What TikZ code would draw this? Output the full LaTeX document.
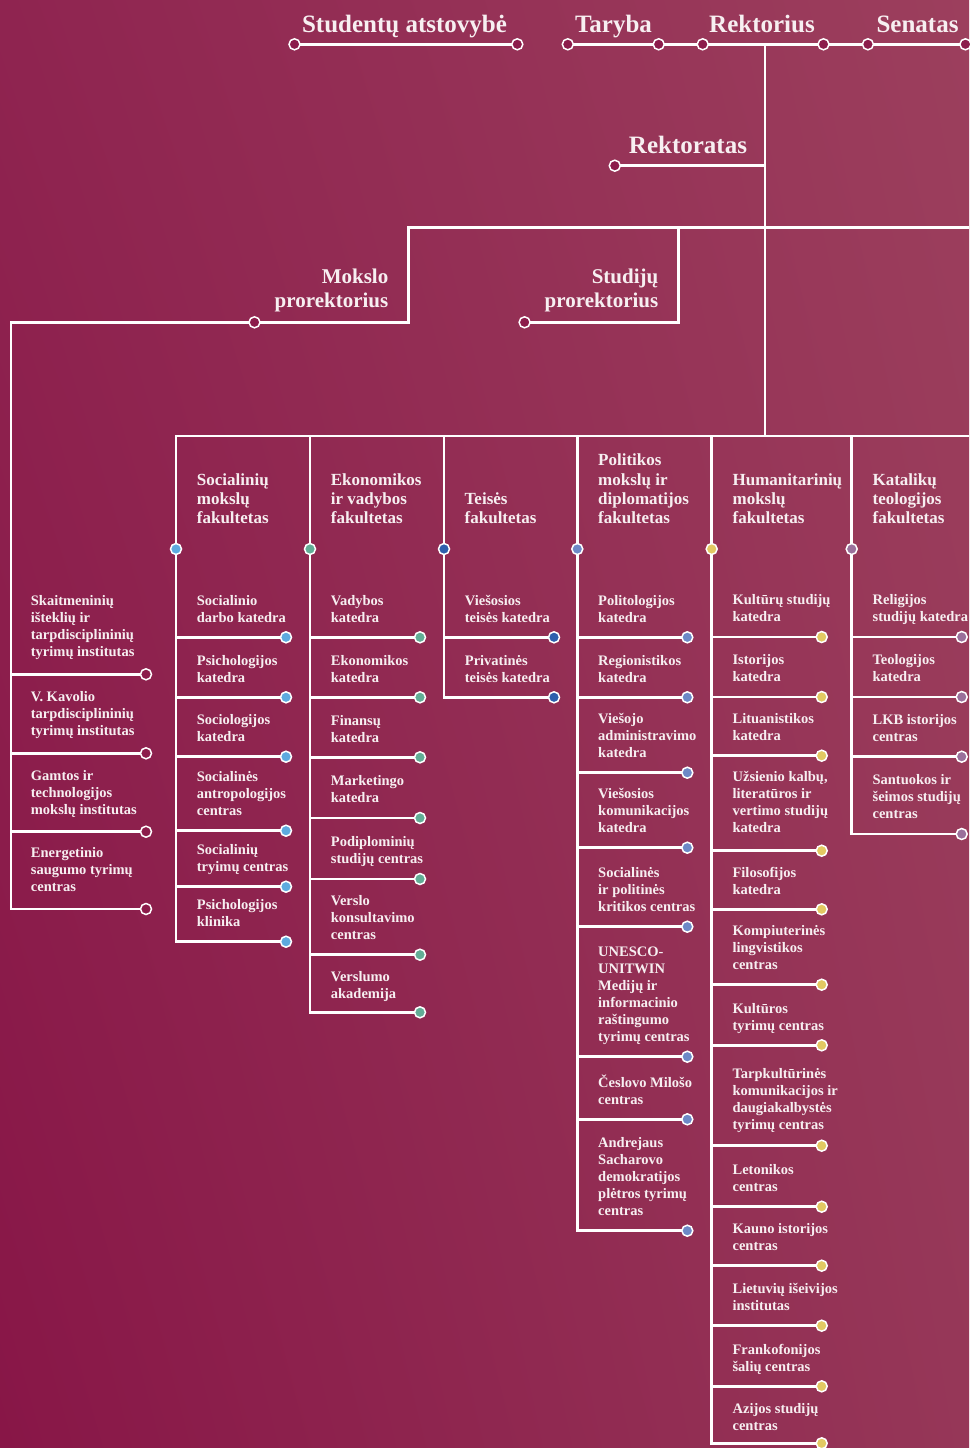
\documentclass[tikz,border=0pt]{standalone}
\usepackage{fontspec}
\setmainfont{Liberation Serif}
\usetikzlibrary{shadings}
\pgfdeclarelayer{bgshade}
\pgfdeclarelayer{lines}
\pgfsetlayers{bgshade,lines,main}
\definecolor{txt}{HTML}{F7EFF1}
\definecolor{dot}{HTML}{8C1C4B}
\definecolor{cA}{HTML}{5DAADF}
\definecolor{cB}{HTML}{62AD96}
\definecolor{cC}{HTML}{2E5FAD}
\definecolor{cD}{HTML}{6D89C7}
\definecolor{cE}{HTML}{E2C963}
\definecolor{cF}{HTML}{9A709B}
\definecolor{bgUL}{RGB}{143,36,80}
\definecolor{bgUR}{RGB}{156,63,93}
\definecolor{bgLL}{RGB}{136,22,71}
\definecolor{bgLR}{RGB}{150,55,88}
\tikzset{
  conn/.style={draw=white, line width=2.5pt},
  dotnode/.style={circle, draw=white, line width=1.5pt, fill=#1, minimum size=11pt, inner sep=0pt},
  dotnode/.default=dot,
  item/.style={text=txt, font=\fontsize{14.5}{17}\selectfont\bfseries, align=left, inner sep=0pt, anchor=south west},
  head/.style={text=txt, font=\fontsize{17}{19.3}\selectfont\bfseries, align=left, inner sep=0pt, anchor=south west},
  toptitle/.style={text=txt, font=\fontsize{25}{30}\selectfont\bfseries, inner sep=0pt, anchor=base},
  prorek/.style={text=txt, font=\fontsize{21}{24}\selectfont\bfseries, align=right, inner sep=0pt, anchor=south east},
}
% faculty item: [baseline offset]{name}{colx}{lineY}{color}{text}
\newcommand\orgitem[6][15]{%
  \coordinate (#2j) at (#3,#4);
  \node[dotnode=#5] (#2d) at (#3+110,#4) {};
  \node[item] (#2t) at (#3+20.7,#4-#1+5.1) {#6\strut};
  \begin{pgfonlayer}{lines}\draw[conn] (#2j) -- (#2d.center);\end{pgfonlayer}
}
% research item (left column): {name}{lineY}{text}
\newcommand\resitem[3]{%
  \coordinate (#1j) at (11,#2);
  \node[dotnode] (#1d) at (146,#2) {};
  \node[item] (#1t) at (30.7,#2-17.5+5.1) {#3\strut};
  \begin{pgfonlayer}{lines}\draw[conn] (#1j) -- (#1d.center);\end{pgfonlayer}
}
\begin{document}
\begin{tikzpicture}[x=1pt,y=-1pt]
\useasboundingbox (0,0) rectangle (969,1448);
\begin{pgfonlayer}{bgshade}
\shade[upper left=bgUL, upper right=bgUR, lower left=bgLL, lower right=bgLR] (0,0) rectangle (969,1448);
\end{pgfonlayer}

% ---------- top row ----------
\node[toptitle] (stud) at (404.5,32) {Studentų atstovybė};
\node[toptitle] (tar) at (613.5,32) {Taryba};
\node[toptitle] (rek) at (762,32) {Rektorius};
\node[toptitle] (sen) at (917.5,32) {Senatas};
\node[dotnode] (s1) at (294.5,44.3) {};
\node[dotnode] (s2) at (517.3,44.3) {};
\node[dotnode] (t1) at (567.8,44.3) {};
\node[dotnode] (t2) at (658.7,44.3) {};
\node[dotnode] (r1) at (702.7,44.3) {};
\node[dotnode] (r2) at (823.5,44.3) {};
\node[dotnode] (n1) at (867.9,44.3) {};
\node[dotnode] (n2) at (965.4,44.3) {};
\coordinate (rj) at (765,44.3);

% ---------- rektoratas ----------
\node[toptitle] (rektoratas) at (688,153) {Rektoratas};
\node[dotnode] (rk) at (614.8,165.7) {};
\coordinate (rkj) at (765,165.7);

% ---------- prorektoriai ----------
\coordinate (mbR) at (969,227.3);
\coordinate (mb1) at (408.5,227.3);
\coordinate (sb1) at (678.6,227.3);
\node[prorek] (mokslo) at (388.5,315.2) {Mokslo\\prorektorius\strut};
\node[prorek] (studiju) at (658.5,315.2) {Studijų\\prorektorius\strut};
\node[dotnode] (mk) at (254.5,322.3) {};
\node[dotnode] (sk) at (524.6,322.3) {};
\coordinate (lctop) at (11,322.3);

% ---------- left column (institutes) ----------
\resitem{l1}{674.3}{Skaitmeninių\\išteklių ir\\tarpdisciplininių\\tyrimų institutas}
\resitem{l2}{753.3}{V. Kavolio\\tarpdisciplininių\\tyrimų institutas}
\resitem{l3}{831.7}{Gamtos ir\\technologijos\\mokslų institutas}
\resitem{l4}{909}{Energetinio\\saugumo tyrimų\\centras}

% ---------- faculty bar ----------
\coordinate (fbR) at (969,436);
\coordinate (fbj) at (765,436);
\coordinate (top1) at (176,436);
\coordinate (top2) at (310,436);
\coordinate (top3) at (444,436);
\coordinate (top4) at (577.3,436);
\coordinate (top5) at (711.7,436);
\coordinate (top6) at (851.7,436);

% headers
\node[head] (h1) at (196.7,529.8) {Socialinių\\mokslų\\fakultetas\strut};
\node[head] (h2) at (330.7,529.8) {Ekonomikos\\ir vadybos\\fakultetas\strut};
\node[head] (h3) at (464.5,529.8) {Teisės\\fakultetas\strut};
\node[head] (h4) at (598.0,529.8) {Politikos\\mokslų ir\\diplomatijos\\fakultetas\strut};
\node[head] (h5) at (732.4,529.8) {Humanitarinių\\mokslų\\fakultetas\strut};
\node[head] (h6) at (872.4,529.8) {Katalikų\\teologijos\\fakultetas\strut};

\node[dotnode=cA] (fc1) at (176,549) {};
\node[dotnode=cB] (fc2) at (310,549) {};
\node[dotnode=cC] (fc3) at (444,549) {};
\node[dotnode=cD] (fc4) at (577.3,549) {};
\node[dotnode=cE] (fc5) at (711.7,549) {};
\node[dotnode=cF] (fc6) at (851.7,549) {};

% column 1
\orgitem{a1}{176}{637.3}{cA}{Socialinio\\darbo katedra}
\orgitem{a2}{176}{697.3}{cA}{Psichologijos\\katedra}
\orgitem{a3}{176}{756.7}{cA}{Sociologijos\\katedra}
\orgitem{a4}{176}{830.7}{cA}{Socialinės\\antropologijos\\centras}
\orgitem{a5}{176}{886.7}{cA}{Socialinių\\tryimų centras}
\orgitem{a6}{176}{941.7}{cA}{Psichologijos\\klinika}

% column 2
\orgitem{b1}{310}{637.3}{cB}{Vadybos\\katedra}
\orgitem{b2}{310}{697.3}{cB}{Ekonomikos\\katedra}
\orgitem{b3}{310}{757.3}{cB}{Finansų\\katedra}
\orgitem{b4}{310}{818}{cB}{Marketingo\\katedra}
\orgitem{b5}{310}{879}{cB}{Podiplominių\\studijų centras}
\orgitem{b6}{310}{954.7}{cB}{Verslo\\konsultavimo\\centras}
\orgitem[13.5]{b7}{310}{1012.3}{cB}{Verslumo\\akademija}

% column 3
\orgitem{c1}{444}{637.3}{cC}{Viešosios\\teisės katedra}
\orgitem{c2}{444}{697.3}{cC}{Privatinės\\teisės katedra}

% column 4
\orgitem{d1}{577.3}{637.3}{cD}{Politologijos\\katedra}
\orgitem{d2}{577.3}{697.3}{cD}{Regionistikos\\katedra}
\orgitem{d3}{577.3}{772.7}{cD}{Viešojo\\administravimo\\katedra}
\orgitem{d4}{577.3}{847.7}{cD}{Viešosios\\komunikacijos\\katedra}
\orgitem{d5}{577.3}{926.7}{cD}{Socialinės\\ir politinės\\kritikos centras}
\orgitem{d6}{577.3}{1056.7}{cD}{UNESCO-\\UNITWIN\\Medijų ir\\informacinio\\raštingumo\\tyrimų centras}
\orgitem{d7}{577.3}{1119.3}{cD}{Česlovo Milošo\\centras}
\orgitem{d8}{577.3}{1230.7}{cD}{Andrejaus\\Sacharovo\\demokratijos\\plėtros tyrimų\\centras}

% column 5
\orgitem{e1}{711.7}{637}{cE}{Kultūrų studijų\\katedra}
\orgitem{e2}{711.7}{697}{cE}{Istorijos\\katedra}
\orgitem{e3}{711.7}{755.7}{cE}{Lituanistikos\\katedra}
\orgitem[18]{e4}{711.7}{850.7}{cE}{Užsienio kalbų,\\literatūros ir\\vertimo studijų\\katedra}
\orgitem{e5}{711.7}{909.3}{cE}{Filosofijos\\katedra}
\orgitem{e6}{711.7}{984.7}{cE}{Kompiuterinės\\lingvistikos\\centras}
\orgitem{e7}{711.7}{1045.3}{cE}{Kultūros\\tyrimų centras}
\orgitem[16.5]{e8}{711.7}{1145.7}{cE}{Tarpkultūrinės\\komunikacijos ir\\daugiakalbystės\\tyrimų centras}
\orgitem{e9}{711.7}{1206.7}{cE}{Letonikos\\centras}
\orgitem{e10}{711.7}{1265.7}{cE}{Kauno istorijos\\centras}
\orgitem{e11}{711.7}{1325.7}{cE}{Lietuvių išeivijos\\institutas}
\orgitem{e12}{711.7}{1386.3}{cE}{Frankofonijos\\šalių centras}
\orgitem[12.3]{e13}{711.7}{1443.3}{cE}{Azijos studijų\\centras}

% column 6
\orgitem{f1}{851.7}{637}{cF}{Religijos\\studijų katedra}
\orgitem{f2}{851.7}{697}{cF}{Teologijos\\katedra}
\orgitem{f3}{851.7}{756.7}{cF}{LKB istorijos\\centras}
\orgitem{f4}{851.7}{834}{cF}{Santuokos ir\\šeimos studijų\\centras}

% ---------- connectors ----------
\begin{pgfonlayer}{lines}
\draw[conn] (s1.center) -- (s2.center);
\draw[conn] (t1.center) -- (t2.center) -- (r1.center) -- (r2.center) -- (n1.center) -- (n2.center);
\draw[conn] (rj) -- (fbj);
\draw[conn] (rk.center) -- (rkj);
\draw[conn] (mbR) -- (mb1) |- (lctop) -- (l4j) -- (l4d.center);
\draw[conn] (sb1) |- (sk.center);
\draw[conn] (fbR) -- (top1) -- (a6j) -- (a6d.center);
\draw[conn] (top2) -- (b7j) -- (b7d.center);
\draw[conn] (top3) -- (c2j) -- (c2d.center);
\draw[conn] (top4) -- (d8j) -- (d8d.center);
\draw[conn] (top5) -- (e13j) -- (e13d.center);
\draw[conn] (top6) -- (f4j) -- (f4d.center);
\end{pgfonlayer}
\end{tikzpicture}
\end{document}
